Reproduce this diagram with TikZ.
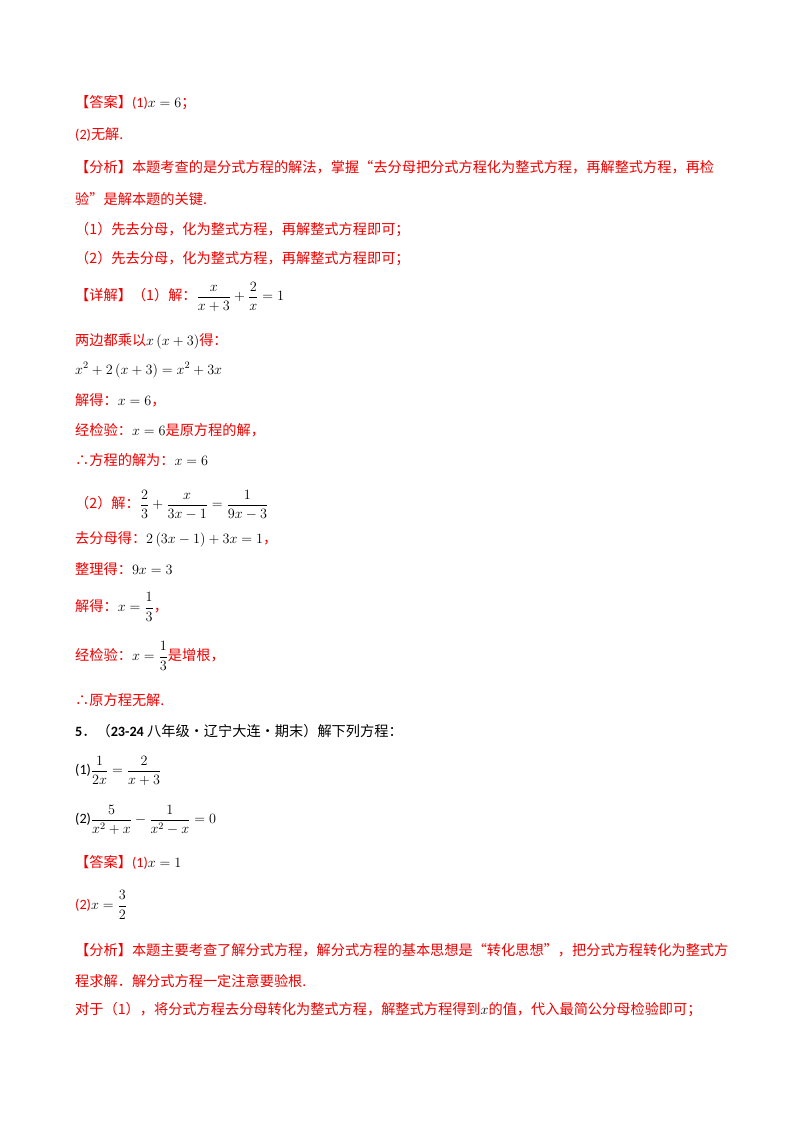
\RequirePackage{fix-cm}
\documentclass[tikz,border=0pt]{standalone}
\usepackage{fontspec}
\setmainfont{Noto Sans CJK SC}
\newfontfamily\latf{Carlito}
\begin{document}
\definecolor{ansred}{RGB}{240,0,0}
\newcommand{\mm}[1]{{\color{black}$\displaystyle #1$}}
\newcommand{\mt}[1]{{\color{black}$#1$}}
\begin{tikzpicture}[x=1pt,y=-1pt,
  ln/.style={anchor=west,inner sep=0pt,text=ansred,font=\fontsize{14.2}{17}\selectfont},
  bk/.style={ln,text=black}]
\useasboundingbox[fill=white] (0,0) rectangle (800,1132);
\node[ln] (l1) at (75,103) {【答案】{\latf(1)}\mt{x=6}；};
\node[ln] (l2) at (75,135) {{\latf(2)}无解.};
\node[ln] (l3) at (75,167) {【分析】本题考查的是分式方程的解法，掌握“去分母把分式方程化为整式方程，再解整式方程，再检};
\node[ln] (l4) at (75,199) {验”是解本题的关键.};
\node[ln] (l5) at (75,230) {（1）先去分母，化为整式方程，再解整式方程即可；};
\node[ln] (l6) at (75,259) {（2）先去分母，化为整式方程，再解整式方程即可；};
\node[ln] (l7) at (75,297) {【详解】（1）解：\mm{\frac{x}{x+3}+\frac{2}{x}=1}};
\node[ln] (l8) at (75,341) {两边都乘以\mt{x\left(x+3\right)}得：};
\node[ln] (l9) at (75,370) {\mt{x^2+2\left(x+3\right)=x^2+3x}};
\node[ln] (l10) at (75,400) {解得：\mt{x=6}，};
\node[ln] (l11) at (75,430) {经检验：\mt{x=6}是原方程的解，};
\node[ln] (l12) at (75,460) {∴方程的解为：\mt{x=6}};
\node[ln] (l13) at (75,505) {（2）解：\mm{\frac{2}{3}+\frac{x}{3x-1}=\frac{1}{9x-3}}};
\node[ln] (l14) at (75,539) {去分母得：\mt{2\left(3x-1\right)+3x=1}，};
\node[ln] (l15) at (75,569) {整理得：\mt{9x=3}};
\node[ln] (l16) at (75,607) {解得：\mm{x=\frac{1}{3}}，};
\node[ln] (l17) at (75,656) {经检验：\mm{x=\frac{1}{3}}是增根，};
\node[ln] (l18) at (75,700) {∴原方程无解.};
\node[bk] (q5) at (75,731) {{\latf\bfseries 5}．（{\latf\bfseries 23-24} 八年级·辽宁大连·期末）解下列方程：};
\node[bk] (q1) at (75,771) {{\latf(1)}\mm{\frac{1}{2x}=\frac{2}{x+3}}};
\node[bk] (q2) at (75,820) {{\latf(2)}\mm{\frac{5}{x^2+x}-\frac{1}{x^2-x}=0}};
\node[ln] (a1) at (75,862) {【答案】{\latf(1)}\mt{x=1}};
\node[ln] (a2) at (75,905) {{\latf(2)}\mm{x=\frac{3}{2}}};
\node[ln] (f1) at (75,950) {【分析】本题主要考查了解分式方程，解分式方程的基本思想是“转化思想”，把分式方程转化为整式方};
\node[ln] (f2) at (75,981) {程求解．解分式方程一定注意要验根.};
\node[ln] (f3) at (75,1010) {对于（1），将分式方程去分母转化为整式方程，解整式方程得到\mt{x}的值，代入最简公分母检验即可；};
\end{tikzpicture}
\end{document}
